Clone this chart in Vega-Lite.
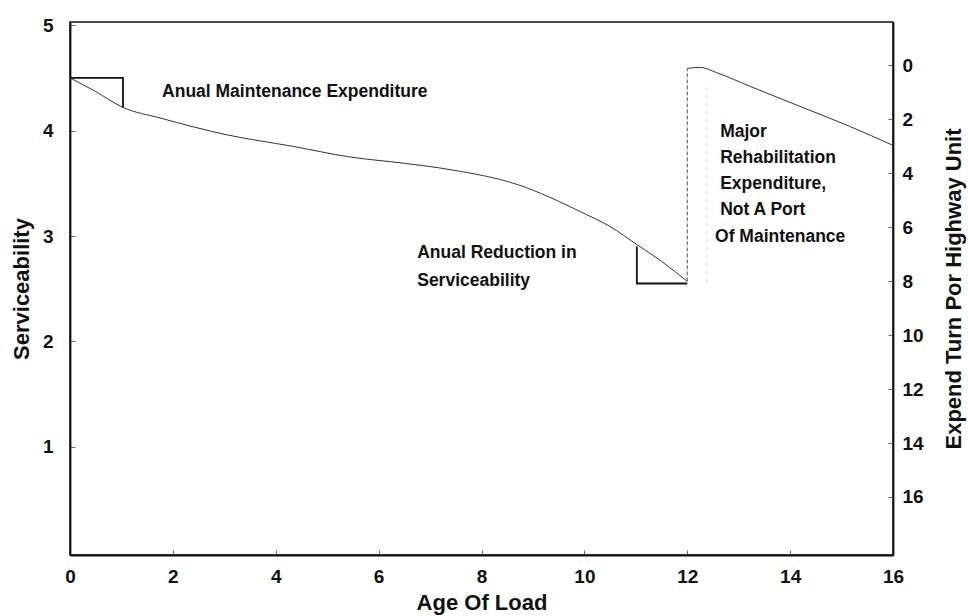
{
  "$schema": "https://vega.github.io/schema/vega-lite/v6.json",
  "width": 823,
  "height": 533,
  "autosize": {"type": "none"},
  "padding": {"left": 70, "top": 22, "right": 75, "bottom": 61},
  "background": "white",
  "config": {
    "view": {"stroke": "#111", "strokeWidth": 1.5},
    "font": "Liberation Sans",
    "axis": {
      "grid": false,
      "domainColor": "#111",
      "domainWidth": 1.8,
      "labelFont": "Liberation Sans",
      "labelFontWeight": "bold",
      "labelFontSize": 19,
      "labelColor": "#111",
      "titleFont": "Liberation Sans",
      "titleFontWeight": "bold",
      "titleFontSize": 22,
      "titleColor": "#111",
      "tickColor": "#666",
      "tickSize": -5,
      "tickWidth": 1
    }
  },
  "datasets": {
    "curve": [
      {"seg": "a", "x": 0, "y": 4.5},
      {"seg": "a", "x": 0.5, "y": 4.37},
      {"seg": "a", "x": 1.03, "y": 4.22},
      {"seg": "a", "x": 1.75, "y": 4.12},
      {"seg": "a", "x": 3.05, "y": 3.96},
      {"seg": "a", "x": 4.34, "y": 3.85},
      {"seg": "a", "x": 5.44, "y": 3.75},
      {"seg": "a", "x": 6.5, "y": 3.69},
      {"seg": "a", "x": 7.39, "y": 3.63},
      {"seg": "a", "x": 8.69, "y": 3.49},
      {"seg": "a", "x": 9.97, "y": 3.22},
      {"seg": "a", "x": 10.5, "y": 3.09},
      {"seg": "a", "x": 11.02, "y": 2.92},
      {"seg": "a", "x": 11.5, "y": 2.76},
      {"seg": "a", "x": 12, "y": 2.57},
      {"seg": "b", "x": 12, "y": 4.59},
      {"seg": "b", "x": 12.25, "y": 4.6},
      {"seg": "b", "x": 12.57, "y": 4.55},
      {"seg": "b", "x": 13.22, "y": 4.42},
      {"seg": "b", "x": 14.19, "y": 4.23},
      {"seg": "b", "x": 15.16, "y": 4.04},
      {"seg": "b", "x": 16, "y": 3.86}
    ],
    "boxes": [
      {"box": "maint", "o": 1, "x": 0, "y": 4.5},
      {"box": "maint", "o": 2, "x": 1.03, "y": 4.5},
      {"box": "maint", "o": 3, "x": 1.03, "y": 4.22},
      {"box": "reduc", "o": 1, "x": 11.02, "y": 2.9},
      {"box": "reduc", "o": 2, "x": 11.02, "y": 2.55},
      {"box": "reduc", "o": 3, "x": 12, "y": 2.55}
    ],
    "jump": [
      {"x": 12, "y": 2.57},
      {"x": 12, "y": 4.59}
    ],
    "faint": [
      {"x": 12.38, "y": 2.57},
      {"x": 12.38, "y": 4.47}
    ],
    "notes": [
      {"x": 1.79, "y": 4.37, "t": "Anual Maintenance Expenditure"},
      {"x": 6.75, "y": 2.84, "t": "Anual Reduction in"},
      {"x": 6.75, "y": 2.57, "t": "Serviceability"},
      {"x": 12.64, "y": 3.99, "t": "Major"},
      {"x": 12.64, "y": 3.74, "t": "Rehabilitation"},
      {"x": 12.64, "y": 3.49, "t": "Expenditure,"},
      {"x": 12.64, "y": 3.25, "t": "Not A Port"},
      {"x": 12.54, "y": 2.99, "t": "Of Maintenance"}
    ],
    "rightaxis": [
      {"e": 0},
      {"e": 16}
    ]
  },
  "layer": [
    {
      "layer": [
        {
          "data": {"name": "curve"},
          "mark": {"type": "line", "interpolate": "monotone", "color": "#333", "strokeWidth": 1},
          "encoding": {
            "x": {"field": "x", "type": "quantitative", "scale": {"domain": [0, 16], "nice": false},
                  "axis": {"values": [0, 2, 4, 6, 8, 10, 12, 14, 16], "format": "d", "labelFlush": false, "title": "Age Of Load", "labelPadding": 17, "titlePadding": 6}},
            "y": {"field": "y", "type": "quantitative", "scale": {"domain": [-0.025, 5.03], "nice": false, "zero": false},
                  "axis": {"values": [1, 2, 3, 4, 5], "format": "d", "title": "Serviceability", "labelPadding": 22, "titlePadding": 9}},
            "detail": {"field": "seg"}
          }
        },
        {
          "data": {"name": "jump"},
          "mark": {"type": "line", "color": "#555", "strokeWidth": 1, "strokeDash": [4, 2]},
          "encoding": {
            "x": {"field": "x", "type": "quantitative"},
            "y": {"field": "y", "type": "quantitative"}
          }
        },
        {
          "data": {"name": "faint"},
          "mark": {"type": "line", "color": "#bbb", "strokeWidth": 1, "strokeDash": [2, 6]},
          "encoding": {
            "x": {"field": "x", "type": "quantitative"},
            "y": {"field": "y", "type": "quantitative"}
          }
        },
        {
          "data": {"name": "boxes"},
          "mark": {"type": "line", "color": "#111", "strokeWidth": 1.8},
          "encoding": {
            "x": {"field": "x", "type": "quantitative"},
            "y": {"field": "y", "type": "quantitative"},
            "detail": {"field": "box"},
            "order": {"field": "o"}
          }
        },
        {
          "data": {"name": "notes"},
          "mark": {"type": "text", "align": "left", "baseline": "middle", "font": "Liberation Sans", "fontWeight": "bold", "fontSize": 17.5, "color": "#111"},
          "encoding": {
            "x": {"field": "x", "type": "quantitative"},
            "y": {"field": "y", "type": "quantitative"},
            "text": {"field": "t"}
          }
        }
      ]
    },
    {
      "data": {"name": "rightaxis"},
      "mark": {"type": "point", "opacity": 0},
      "encoding": {
        "y": {"field": "e", "type": "quantitative",
              "scale": {"domain": [-1.6, 18.15], "reverse": true, "nice": false, "zero": false},
              "axis": {"orient": "right", "values": [0, 2, 4, 6, 8, 10, 12, 14, 16], "format": "d", "title": "Expend Turn Por Highway Unit", "titleAngle": 270, "labelPadding": 14, "titlePadding": 42}}
      }
    }
  ],
  "resolve": {"scale": {"y": "independent"}}
}
